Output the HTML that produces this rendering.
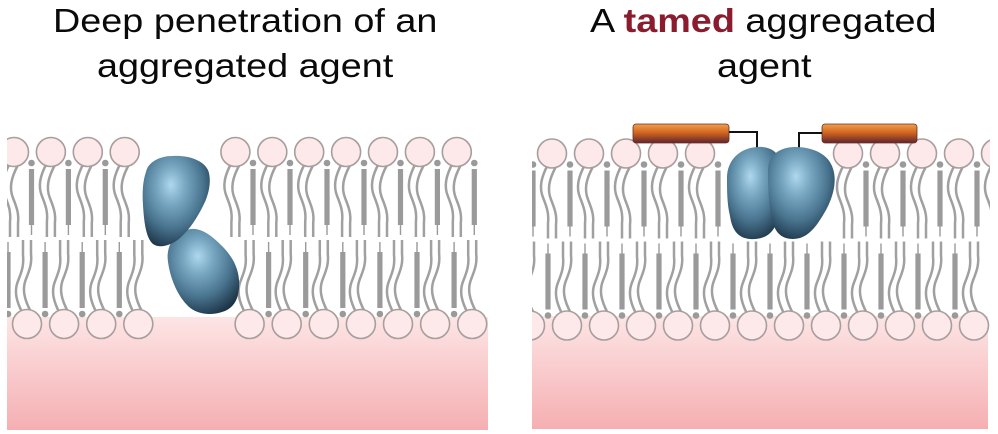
<!DOCTYPE html>
<html>
<head>
<meta charset="utf-8">
<style>
  html,body{margin:0;padding:0;background:#fff;}
  svg{display:block;}
  .tail{fill:none;stroke:#a0a0a0;stroke-width:2.5;}
  .head{fill:#fde9e9;stroke:#a89e9e;stroke-width:1.6;}
  .stk{fill:#9a9a9a;}
  .thin{stroke:#9a9a9a;stroke-width:1.4;}
  .ttl{font-family:"Liberation Sans",Arial,sans-serif;font-size:33px;fill:#0a0a0a;}
</style>
</head>
<body>
<svg width="998" height="434" viewBox="0 0 998 434" xmlns="http://www.w3.org/2000/svg">
  <defs>
    <linearGradient id="pink" x1="0" y1="0" x2="0" y2="1">
      <stop offset="0" stop-color="#fde5e5"/>
      <stop offset="1" stop-color="#f5afb2"/>
    </linearGradient>
    <radialGradient id="blob" cx="0.45" cy="0.35" r="0.7" fx="0.42" fy="0.32">
      <stop offset="0" stop-color="#aed8ee"/>
      <stop offset="0.3" stop-color="#78a7c1"/>
      <stop offset="0.65" stop-color="#4a7590"/>
      <stop offset="1" stop-color="#1b3346"/>
    </radialGradient>
    <linearGradient id="bar" x1="0" y1="0" x2="0" y2="1">
      <stop offset="0" stop-color="#f0a050"/>
      <stop offset="0.45" stop-color="#d2661e"/>
      <stop offset="1" stop-color="#5e2530"/>
    </linearGradient>
    <clipPath id="cl"><rect x="7" y="0" width="481" height="434"/></clipPath>
    <clipPath id="cr"><rect x="532" y="0" width="458" height="434"/></clipPath>

    <g id="tl">
      <path class="tail" d="M-4,163 C-11,176 -13,186 -9,196 C-5,206 -3,212 -4,222 L-4,237"/>
      <path class="tail" d="M4,165 C-3,178 -5,188 -1,198 C3,208 5,214 4,223 L4,237"/>
      <circle class="head" cx="0" cy="152" r="14.5"/>
    </g>
    <g id="ts">
      <circle class="stk" cx="0" cy="163" r="3.3"/>
      <rect class="stk" x="-2.6" y="169" width="5.2" height="56"/>
      <line class="thin" x1="0" y1="225" x2="0" y2="235"/>
    </g>
    <g id="bl">
      <path class="tail" d="M-4,314 C-11,301 -13,291 -9,281 C-5,271 -3,265 -4,255 L-4,240"/>
      <path class="tail" d="M4,312 C-3,299 -5,289 -1,279 C3,269 5,263 4,254 L4,240"/>
      <circle class="head" cx="0" cy="324" r="14.5"/>
    </g>
    <g id="bs">
      <circle class="stk" cx="0" cy="314" r="3.3"/>
      <rect class="stk" x="-2.6" y="252" width="5.2" height="56"/>
      <line class="thin" x1="0" y1="242" x2="0" y2="252"/>
    </g>
  </defs>

  <!-- Titles -->
  <text class="ttl" transform="translate(53,32) scale(1.145,1)">Deep penetration of an</text>
  <text class="ttl" transform="translate(97,77) scale(1.145,1)">aggregated agent</text>
  <text class="ttl" transform="translate(590,32) scale(1.145,1)">A <tspan font-weight="bold" fill="#8a1c2e">tamed</tspan> aggregated</text>
  <text class="ttl" transform="translate(717,77) scale(1.145,1)">agent</text>

  <!-- LEFT PANEL -->
  <rect x="7" y="317" width="481" height="113" fill="url(#pink)"/>
  <g clip-path="url(#cl)">
    <use href="#ts" x="31.5"/><use href="#ts" x="68.4"/><use href="#ts" x="105.3"/>
    <use href="#ts" x="253"/><use href="#ts" x="290"/><use href="#ts" x="327"/><use href="#ts" x="364"/>
    <use href="#ts" x="400.5"/><use href="#ts" x="437.4"/><use href="#ts" x="474.3"/>

    <use href="#tl" x="14"/><use href="#tl" x="50.9"/><use href="#tl" x="87.8"/><use href="#tl" x="124.7"/>
    <use href="#tl" x="235.4"/><use href="#tl" x="272.3"/><use href="#tl" x="309.2"/><use href="#tl" x="346.1"/>
    <use href="#tl" x="383"/><use href="#tl" x="419.9"/><use href="#tl" x="456.8"/>

    <use href="#bs" x="8"/><use href="#bs" x="45.1"/><use href="#bs" x="82.2"/><use href="#bs" x="119.3"/>
    <use href="#bs" x="268.6"/><use href="#bs" x="305.7"/><use href="#bs" x="342.8"/><use href="#bs" x="379.9"/>
    <use href="#bs" x="417"/><use href="#bs" x="454.1"/>

    <use href="#bl" x="27"/><use href="#bl" x="64.1"/><use href="#bl" x="101.2"/><use href="#bl" x="138.3"/>
    <use href="#bl" x="249.6"/><use href="#bl" x="286.7"/><use href="#bl" x="323.8"/><use href="#bl" x="360.9"/>
    <use href="#bl" x="398"/><use href="#bl" x="435.1"/><use href="#bl" x="472.2"/>
  </g>
  <!-- left blobs -->
  <path fill="url(#blob)" d="M168,252 C170,238 182,228 195,229 C205,230 214,238 222,246 C231,255 238,266 239,280 C240,295 236,308 222,312 C210,316 196,314 188,306 C178,296 172,282 169,268 C168,262 167,257 168,252 Z"/>
  <path fill="url(#blob)" d="M146,172 C148,162 160,156 172,156 C188,155 203,160 208,170 C212,180 209,195 203,206 C197,218 190,229 180,238 C172,245 160,249 153,244 C146,238 144,222 143,205 C142,192 143,180 146,172 Z"/>

  <!-- RIGHT PANEL -->
  <rect x="532" y="316" width="456" height="113" fill="url(#pink)"/>
  <g clip-path="url(#cr)">
    <g transform="translate(0,1.5)">
      <use href="#ts" x="533"/><use href="#ts" x="570"/><use href="#ts" x="607"/><use href="#ts" x="644"/>
      <use href="#ts" x="681"/><use href="#ts" x="718"/>
      <use href="#ts" x="866"/><use href="#ts" x="903"/><use href="#ts" x="940"/><use href="#ts" x="977"/>

      <use href="#tl" x="552"/><use href="#tl" x="589"/><use href="#tl" x="626"/><use href="#tl" x="663"/><use href="#tl" x="700"/>
      <use href="#tl" x="848"/><use href="#tl" x="885"/><use href="#tl" x="922"/><use href="#tl" x="959"/><use href="#tl" x="996"/>

      <use href="#bs" x="548"/><use href="#bs" x="585"/><use href="#bs" x="622"/><use href="#bs" x="659"/>
      <use href="#bs" x="696"/><use href="#bs" x="733"/><use href="#bs" x="770"/><use href="#bs" x="807"/>
      <use href="#bs" x="844"/><use href="#bs" x="881"/><use href="#bs" x="918"/><use href="#bs" x="955"/>

      <use href="#bl" x="530"/><use href="#bl" x="567"/><use href="#bl" x="604"/><use href="#bl" x="641"/>
      <use href="#bl" x="678"/><use href="#bl" x="715"/><use href="#bl" x="752"/><use href="#bl" x="789"/>
      <use href="#bl" x="826"/><use href="#bl" x="863"/><use href="#bl" x="900"/><use href="#bl" x="937"/>
      <use href="#bl" x="974"/>
    </g>
  </g>

  <!-- bars and connectors -->
  <rect x="633" y="124" width="96" height="19" rx="3" fill="url(#bar)" stroke="#6a3020" stroke-width="0.8"/>
  <rect x="822" y="124" width="95" height="19" rx="3" fill="url(#bar)" stroke="#6a3020" stroke-width="0.8"/>
  <path d="M729,132 H757 V150" fill="none" stroke="#111" stroke-width="2"/>
  <path d="M799,150 V133 H822" fill="none" stroke="#111" stroke-width="2"/>

  <!-- right blobs -->
  <path fill="url(#blob)" d="M727,178 C727,160 740,148 757,147 C770,146 780,152 782,166 C784,185 781,210 776,224 C772,235 762,240 750,239 C738,238 732,230 730,216 C727,204 727,190 727,178 Z"/>
  <path fill="url(#blob)" d="M768,170 C768,155 780,147 795,147 C810,147 826,152 832,166 C838,180 833,197 826,210 C819,222 812,234 800,238 C788,241 778,237 774,226 C769,212 768,190 768,170 Z"/>
</svg>
</body>
</html>
